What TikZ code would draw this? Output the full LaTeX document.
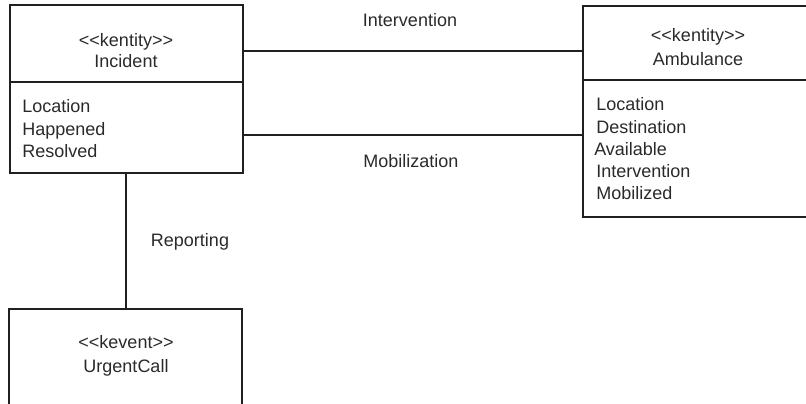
\documentclass[tikz,border=0pt]{standalone}
\usepackage{fontspec}
\setmainfont{Liberation Sans}[Ligatures=TeXOff]
\usetikzlibrary{fit}
\definecolor{linecol}{HTML}{231F20}
\definecolor{textcol}{HTML}{2A2A2A}
\newcommand{\stereo}[1]{<\kern0pt<#1>\kern0pt>}
\begin{document}
\begin{tikzpicture}[x=0.75pt,y=-0.75pt,
  box/.style={draw=linecol, line width=1.1pt, inner sep=0pt, outer sep=0pt},
  txt/.style={anchor=base, inner sep=0pt, text=textcol, font=\fontsize{13.5}{16}\selectfont},
  attr/.style={txt, anchor=base west},
  conn/.style={draw=linecol, line width=1.1pt}]
\useasboundingbox (0,0) rectangle (806,403);
% boxes
\node[box, fit={(10,5) (243,173)}] (inc) {};
\node[box, fit={(583,6) (816,217)}] (amb) {};
\node[box, fit={(9,309) (242,412)}] (uc) {};
\draw[conn] (inc.west |- 0,82) -- (inc.east |- 0,82);
\draw[conn] (amb.west |- 0,80) -- (amb.east |- 0,80);
% Incident texts
\node[txt] (incst) at (126,47) {\stereo{kentity}};
\node[txt] (incnm) at (126,68) {Incident};
\node[attr] (inca1) at (22,112) {Location};
\node[attr] (inca2) at (22,135) {Happened};
\node[attr] (inca3) at (22,157) {Resolved};
% Ambulance texts
\node[txt] (ambst) at (698,42) {\stereo{kentity}};
\node[txt] (ambnm) at (698,65) {Ambulance};
\node[attr] (amba1) at (596,110) {Location};
\node[attr] (amba2) at (596,133) {Destination};
\node[attr] (amba3) at (594,155) {Available};
\node[attr] (amba4) at (596,177) {Intervention};
\node[attr] (amba5) at (596,199) {Mobilized};
% UrgentCall texts
\node[txt] (ucst) at (126,348) {\stereo{kevent}};
\node[txt] (ucnm) at (126,372) {UrgentCall};
% connectors
\draw[conn] (inc.east |- 0,51) -- (amb.west |- 0,51);
\draw[conn] (inc.east |- 0,135) -- (amb.west |- 0,135);
\draw[conn] (inc.south -| 126,0) -- (uc.north -| 126,0);
% labels
\node[txt] (lint) at (410,27) {Intervention};
\node[txt] (lmob) at (411,167) {Mobilization};
\node[txt] (lrep) at (190,246) {Reporting};
\end{tikzpicture}
\end{document}
